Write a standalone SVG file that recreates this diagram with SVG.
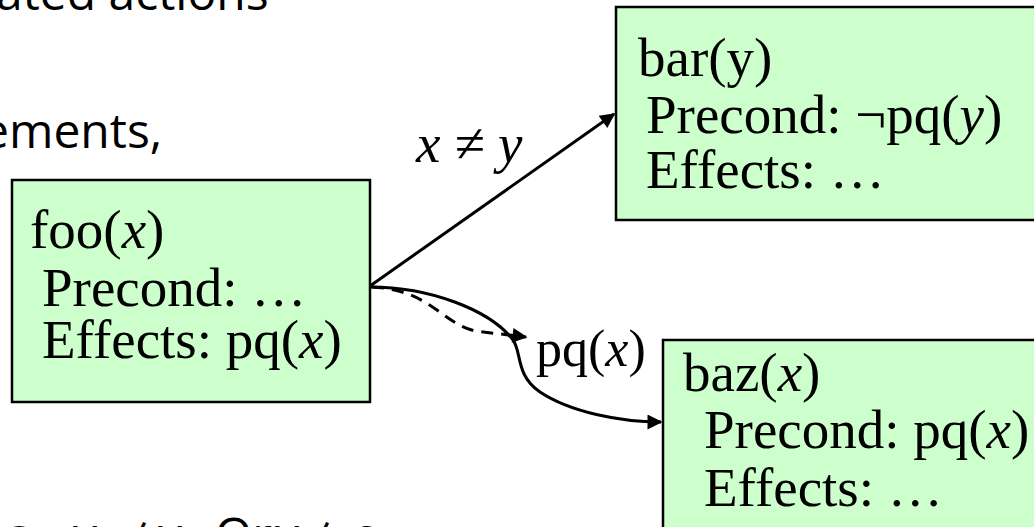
<svg xmlns="http://www.w3.org/2000/svg" width="1034" height="527" viewBox="0 0 1034 527">
<style>
.box{fill:#CCFFCC;stroke:#000;stroke-width:2.5}
.t{font-family:"Liberation Serif","Times New Roman",serif;font-size:55px;fill:#000}
.i{font-style:italic}
.s{font-family:"Open Sans","Noto Sans",sans-serif;font-size:48px;fill:#000}
.c{fill:none;stroke:#000;stroke-width:3}
</style>
<defs>
<marker id="ah" viewBox="0 0 10 10" refX="9" refY="5" markerWidth="6.5" markerHeight="5" markerUnits="strokeWidth" orient="auto">
<path d="M0,0 L10,5 L0,10 z" fill="#000"/>
</marker>
</defs>
<rect width="1034" height="527" fill="#fff"/>
<text class="s" x="-4" y="10">ated actions</text>
<text class="s" x="-18" y="148">ements,</text>
<text class="s" y="552"><tspan x="7">s</tspan><tspan x="73">y</tspan><tspan x="125">≠</tspan><tspan x="158">y</tspan><tspan x="215">Or</tspan><tspan x="275">y</tspan><tspan x="308">≠</tspan><tspan x="352">c</tspan></text>
<g id="foo">
<rect class="box" x="12" y="180" width="358" height="222"/>
<text class="t" x="30" y="248">foo(<tspan class="i">x</tspan>)</text>
<text class="t" x="42" y="306">Precond: …</text>
<text class="t" x="42" y="358">Effects: pq(<tspan class="i">x</tspan>)</text>
</g>
<g id="bar">
<rect class="box" x="616" y="7" width="430" height="213"/>
<text class="t" x="638" y="76">bar(y)</text>
<text class="t" x="646" y="133">Precond: ¬pq(<tspan class="i">y</tspan>)</text>
<text class="t" x="646" y="188">Effects: …</text>
</g>
<g id="baz">
<rect class="box" x="663" y="340" width="390" height="200"/>
<text class="t" x="683" y="391">baz(<tspan class="i">x</tspan>)</text>
<text class="t" x="704" y="448">Precond: pq(<tspan class="i">x</tspan>)</text>
<text class="t" x="704" y="506">Effects: …</text>
</g>
<g id="connectors">
<path class="c" d="M370,286 L614,114" marker-end="url(#ah)"/>
<path class="c" d="M370,287 C430,287 490,310 513,340 C522,352 515,375 540,392 C570,412 620,422 661,422" marker-end="url(#ah)"/>
<path class="c" d="M372,287 C430,290 440,322 475,331 L526,337" stroke-dasharray="12,8" marker-end="url(#ah)"/>
<text class="t i" x="416" y="162">x ≠ y</text>
<text class="t" x="536" y="366" style="font-size:52px">pq(<tspan class="i">x</tspan>)</text>
</g>
</svg>
